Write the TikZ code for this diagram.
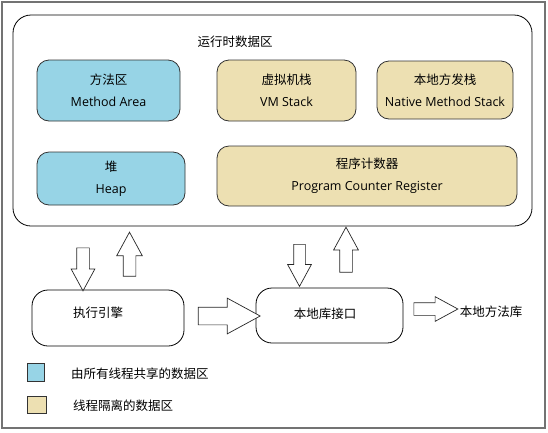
\documentclass[tikz,border=0pt]{standalone}
\usepackage{fontspec}
\setmainfont{Open Sans}
\newfontfamily\cjk{Noto Sans CJK SC}
\usepackage{xcolor}
\usetikzlibrary{shapes.arrows}
\definecolor{shared}{HTML}{97D4E6}
\definecolor{private}{HTML}{EDE0B2}

\begin{document}
\begin{tikzpicture}[x=1pt,y=-1pt,
 area/.style={draw=black!80,line width=0.8pt,rounded corners=12pt,align=center,inner sep=0pt,font=\fontsize{12.5}{22}\selectfont},
 plain/.style={area,draw=black,fill=white,rounded corners=16pt},
 blockarrow/.style={single arrow,draw=black!85,line width=0.7pt,fill=white,inner sep=#1,single arrow tip angle=57,single arrow head indent=0pt},
 label/.style={font=\fontsize{12.5}{15}\selectfont\cjk,inner sep=0pt},
 key/.style={draw=black!80,line width=0.8pt,inner sep=0pt}]
\useasboundingbox (0,0) rectangle (548,432);
\draw[black!55,line width=1.2pt] (2,2) rectangle (545,428);
% runtime data area
\node[plain,minimum width=519pt,minimum height=211pt,rounded corners=18pt] (rt) at (272.5,120.5) {};
\node[label] (rttitle) at (235,42) {运行时数据区};
\node[area,fill=shared,minimum width=143pt,minimum height=61pt] (method) at (108.5,90.5) {{\cjk 方法区}\\Method Area};
\node[area,fill=private,minimum width=139pt,minimum height=61pt] (vms) at (286.5,90.5) {{\cjk 虚拟机栈}\\VM Stack};
\node[area,fill=private,minimum width=136pt,minimum height=58pt] (nms) at (445,90) {{\cjk 本地方发栈}\\Native Method Stack};
\node[area,fill=shared,minimum width=148pt,minimum height=53pt] (heap) at (111,178.5) {{\cjk 堆}\\Heap};
\node[area,fill=private,minimum width=300pt,minimum height=60pt] (pc) at (367,176) {{\cjk 程序计数器}\\Program Counter Register};
% engine and native interface
\node[plain,minimum width=152pt,minimum height=56pt] (engine) at (108,318) {};
\node[label] at (98,313) {执行引擎};
\node[plain,minimum width=147pt,minimum height=55pt] (jni) at (329.5,315.5) {};
\node[label] at (325,314) {本地库接口};
\node[label] (natlib) at (491,312) {本地方法库};
% hollow arrows
\node[blockarrow=6pt,shape border rotate=270,minimum height=43pt,minimum width=23pt,single arrow head extend=5.5pt] (down1) at (83,263.5) {};
\node[blockarrow=6pt,shape border rotate=90,minimum height=44pt,minimum width=25pt,single arrow head extend=6.5pt] (up1) at (129.5,260) {};
\node[blockarrow=5.5pt,shape border rotate=270,minimum height=42pt,minimum width=23pt,single arrow head extend=6pt] (down2) at (299.5,260) {};
\node[blockarrow=6pt,shape border rotate=90,minimum height=45pt,minimum width=24pt,single arrow head extend=6pt] (up2) at (346,255.5) {};
\node[blockarrow=8.5pt,minimum height=62pt,minimum width=35pt,single arrow head extend=9pt] (toJni) at (221,316) {};
\node[blockarrow=6pt,minimum height=44pt,minimum width=24pt,single arrow head extend=6pt] (toLib) at (430,309) {};
% legend
\node[key,fill=shared,minimum width=17pt,minimum height=18pt] (keyA) at (35.5,372) {};
\node[label,anchor=west] at (71,374) {由所有线程共享的数据区};
\node[key,fill=private,minimum width=19pt,minimum height=17pt] (keyB) at (36.5,404.5) {};
\node[label,anchor=west] at (73,406) {线程隔离的数据区};
\end{tikzpicture}
\end{document}
